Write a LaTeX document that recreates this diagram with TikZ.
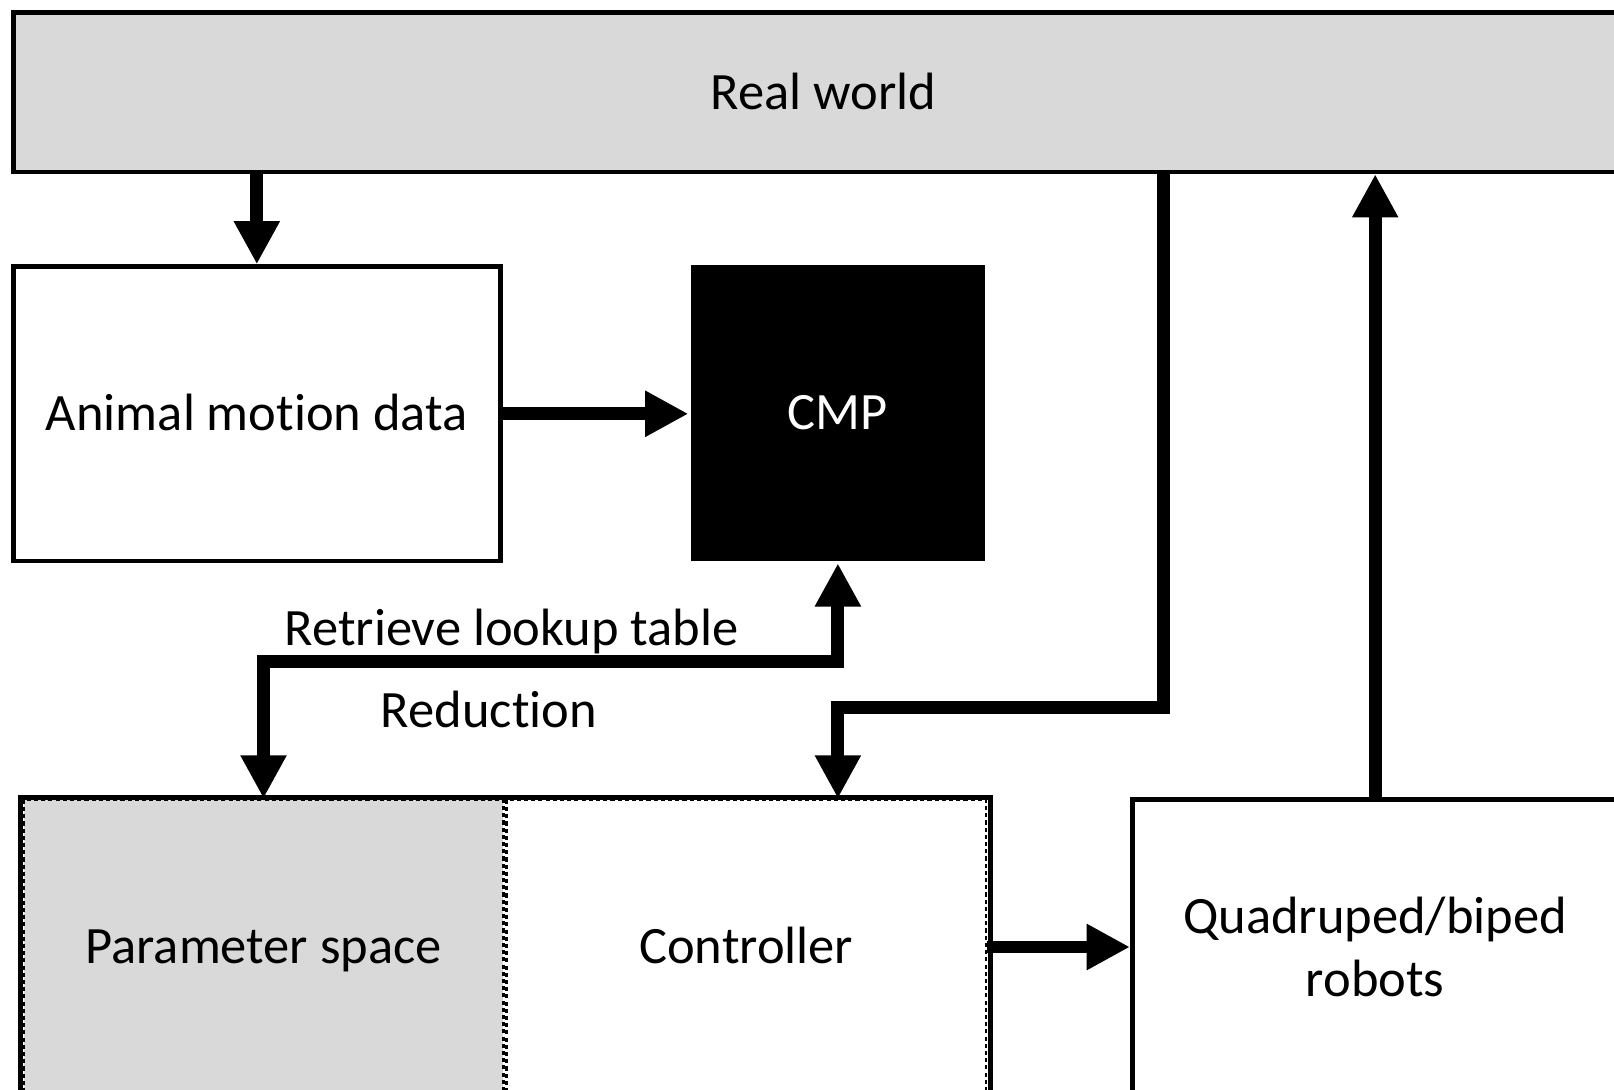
\documentclass[tikz,border=0pt]{standalone}
\usepackage{fontspec}
\setmainfont[Ligatures=NoCommon]{Carlito}
\usetikzlibrary{arrows.meta}
\definecolor{rwgray}{HTML}{D9D9D9}
\begin{document}
\begin{tikzpicture}[x=1pt,y=-1pt,
  txt/.style={font=\fontsize{51}{62}\selectfont, inner sep=0pt},
  one/.style={txt, text height=33pt, text depth=0pt},
  box/.style={one, draw=black, line width=4.5pt, align=center},
  half/.style={one, draw=black, line width=2.5pt, dash pattern=on 4pt off 3pt},
  conn/.style={line width=12.5pt, line join=miter, -{Triangle[width=42pt,length=42pt]}},
  biconn/.style={line width=12.5pt, line join=miter, {Triangle[width=42pt,length=42pt]}-{Triangle[width=42pt,length=42pt]}},
]
\useasboundingbox (0,0) rectangle (1568,1058);
\clip (0,0) rectangle (1568,1058);
\fill[white] (0,0) rectangle (1568,1058);

% nodes
\node[box, fill=rwgray, minimum width=1574pt, minimum height=155pt] (real) at (800,89.5) {Real world};
\node[box, minimum width=473pt, minimum height=286pt] (animal) at (249.5,402) {Animal motion data};
\node[box, draw=none, fill=black, text=white, minimum width=286pt, minimum height=288pt] (cmp) at (814,401) {CMP};
\node[half, fill=rwgray, minimum width=466pt, minimum height=286pt] (param) at (256,920) {Parameter space};
\node[half, minimum width=466pt, minimum height=286pt] (ctrl) at (725,920) {Controller};
\draw[line width=4.5pt] (20,775) rectangle (962,1070);
\node[txt, draw=black, line width=4.5pt, align=center, minimum width=472pt, minimum height=286pt] (robots) at (1336,920) {Quadruped/biped\\robots};

% labels
\node[one] (retr) at (497,611) {Retrieve lookup table};
\node[one] (red) at (475,690) {Reduction};

% connectors
\coordinate (rl) at (256,643);
\coordinate (rc) at (1130,687);
\draw[conn] (real.south -| animal.north) -- (animal.north);
\draw[conn] (animal.east) -- (animal.east -| cmp.west);
\draw[biconn] (cmp.south) |- (rl) -- (rl |- param.north);
\draw[conn] (real.south -| rc) -- (rc) -| (ctrl.north -| cmp.south);
\draw[conn] (ctrl.east) -- (robots.west);
\draw[conn] (robots.north) -- (robots.north |- real.south);
\end{tikzpicture}
\end{document}
